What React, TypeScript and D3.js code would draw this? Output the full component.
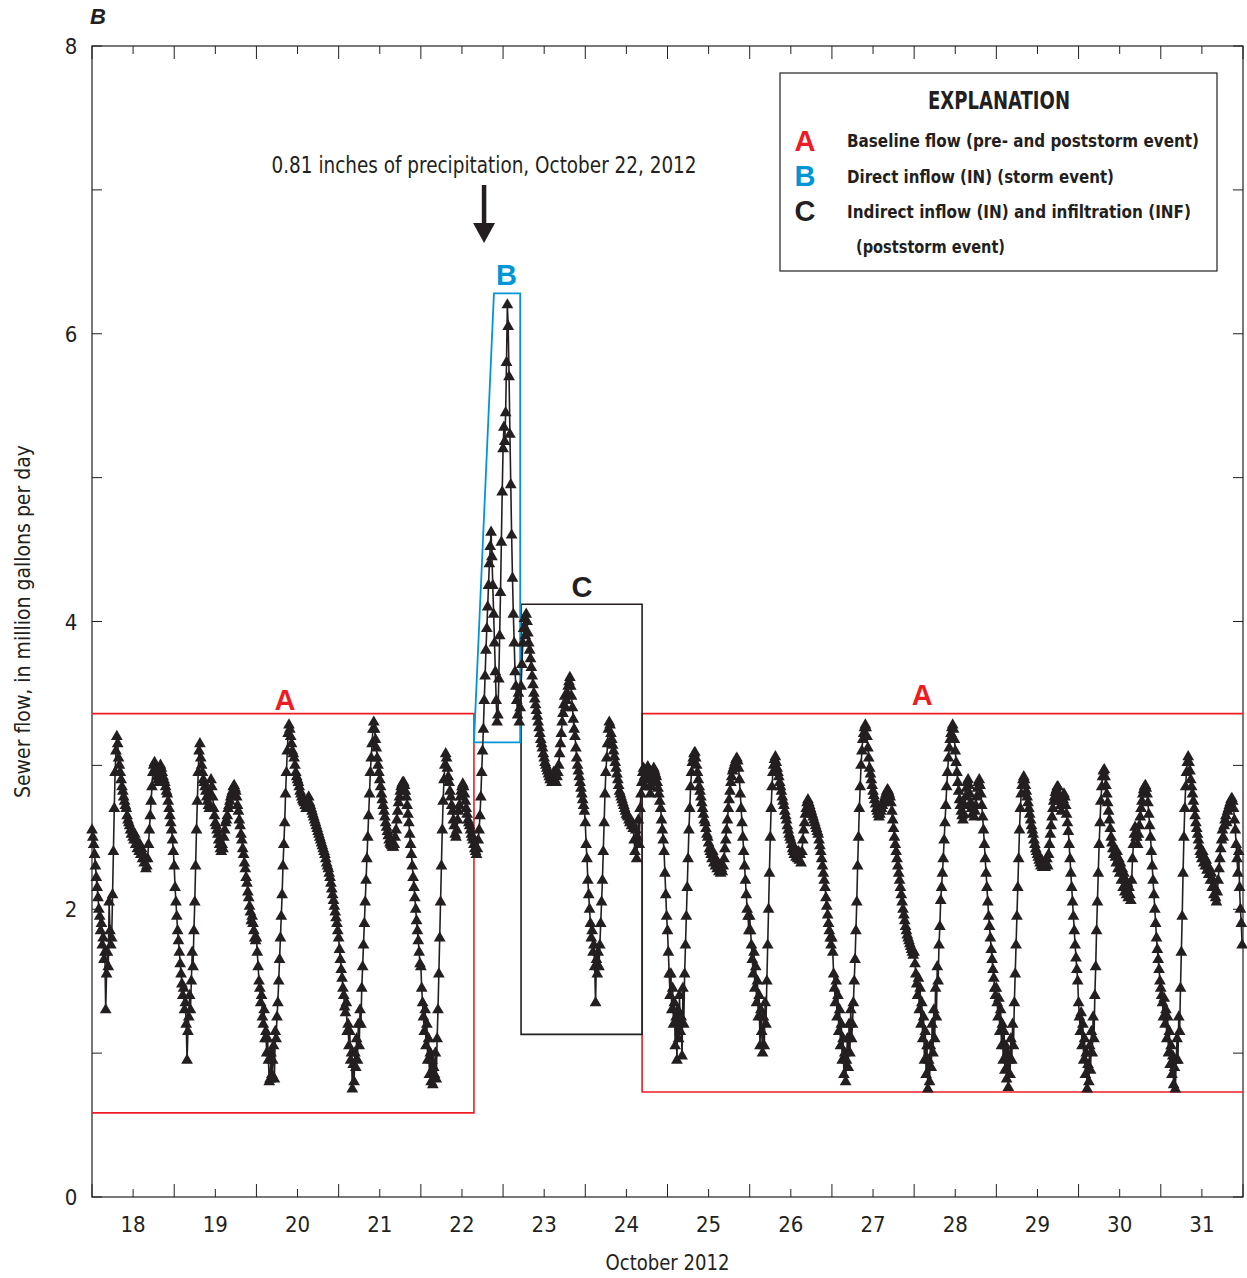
import React from "react";
import * as d3 from "d3";

const W = 1247;
const H = 1278;
const plot = { left: 92, right: 1243, top: 46, bottom: 1197 };

const ink = "#231f20";
const red = "#ed1c24";
const blue = "#0096d6";
const narrow = "'Liberation Sans Narrow', 'DejaVu Sans Condensed', 'Roboto', sans-serif";
const bold = "'Liberation Sans', Arial, sans-serif";

// sewer flow, million gallons per day, one reading every 15 minutes
const oct18 = [
  2.55, 2.50, 2.45, 2.38, 2.30, 2.22, 2.15, 2.08, 2.00, 1.95, 1.85, 1.90,
  1.75, 1.80, 1.65, 1.70, 1.30, 1.55, 1.70, 1.60, 2.05, 1.85, 1.75, 1.80,
  2.10, 2.40, 2.70, 2.95, 3.10, 3.20, 3.15, 3.05, 3.00, 2.95, 2.90, 2.85,
  2.82, 2.78, 2.75, 2.72, 2.70, 2.65, 2.62, 2.60, 2.58, 2.55, 2.52, 2.55,
  2.50, 2.48, 2.52, 2.45, 2.48, 2.42, 2.45, 2.40, 2.45, 2.38, 2.42, 2.35,
  2.38, 2.32, 2.35, 2.28, 2.30, 2.35, 2.45, 2.55, 2.65, 2.75, 2.85, 2.95,
  3.00, 3.02, 2.98, 2.95, 2.92, 2.90, 2.88, 2.95, 3.00, 2.98, 2.95, 2.92,
  2.90, 2.88, 2.85, 2.82, 2.80, 2.75, 2.70, 2.65, 2.60, 2.55, 2.48, 2.40,
];
const oct19 = [
  2.30, 2.15, 2.05, 1.95, 1.85, 1.78, 1.70, 1.62, 1.55, 1.48, 1.40, 1.45,
  1.30, 1.35, 1.20, 0.95, 1.15, 1.25, 1.40, 1.30, 1.50, 1.70, 1.60, 1.85,
  2.05, 2.30, 2.55, 2.75, 2.95, 3.10, 3.15, 3.05, 3.00, 2.95, 2.90, 2.88,
  2.85, 2.82, 2.78, 2.75, 2.72, 2.70, 2.80, 2.90, 2.85, 2.78, 2.70, 2.65,
  2.60, 2.58, 2.55, 2.52, 2.48, 2.45, 2.42, 2.40, 2.45, 2.42, 2.50, 2.55,
  2.60, 2.62, 2.65, 2.70, 2.72, 2.75, 2.78, 2.80, 2.82, 2.85, 2.86, 2.84,
  2.82, 2.78, 2.72, 2.68, 2.62, 2.58, 2.52, 2.48, 2.42, 2.38, 2.32, 2.28,
  2.22, 2.18, 2.12, 2.08, 2.02, 1.98, 1.92, 1.95, 1.90, 1.85, 1.80, 1.78,
];
const oct20 = [
  1.80, 1.70, 1.60, 1.50, 1.45, 1.35, 1.40, 1.25, 1.20, 1.30, 1.10, 1.15,
  1.00, 1.10, 0.95, 0.80, 0.82, 1.00, 0.85, 0.95, 1.05, 0.82, 1.15, 1.10,
  1.25, 1.35, 1.50, 1.65, 1.80, 1.95, 2.10, 2.30, 2.45, 2.60, 2.80, 2.95,
  3.10, 3.22, 3.28, 3.25, 3.20, 3.15, 3.10, 3.08, 3.05, 3.00, 2.95, 2.92,
  2.90, 2.88, 2.85, 2.82, 2.80, 2.78, 2.76, 2.75, 2.74, 2.72, 2.70, 2.72,
  2.75, 2.78, 2.74, 2.72, 2.70, 2.68, 2.66, 2.64, 2.62, 2.60, 2.58, 2.56,
  2.54, 2.52, 2.50, 2.48, 2.46, 2.44, 2.42, 2.40, 2.38, 2.35, 2.32, 2.30,
  2.28, 2.25, 2.22, 2.18, 2.14, 2.10, 2.06, 2.02, 1.98, 1.94, 1.90, 1.85,
];
const oct21 = [
  1.80, 1.72, 1.65, 1.58, 1.52, 1.45, 1.40, 1.32, 1.28, 1.35, 1.15, 1.20,
  1.05, 1.15, 0.95, 1.00, 0.75, 0.92, 0.80, 1.00, 0.90, 1.10, 0.95, 1.20,
  1.05, 1.30, 1.20, 1.45, 1.60, 1.75, 1.90, 2.05, 2.20, 2.35, 2.50, 2.65,
  2.80, 2.95, 3.05, 3.15, 3.25, 3.30, 3.25, 3.18, 3.12, 3.05, 3.00, 2.95,
  2.90, 2.85, 2.80, 2.76, 2.72, 2.68, 2.64, 2.60, 2.57, 2.54, 2.51, 2.48,
  2.46, 2.45, 2.44, 2.43, 2.43, 2.45, 2.50, 2.55, 2.62, 2.68, 2.74, 2.78,
  2.82, 2.85, 2.87, 2.88, 2.88, 2.86, 2.82, 2.78, 2.72, 2.66, 2.60, 2.52,
  2.45, 2.38, 2.30, 2.22, 2.15, 2.08, 2.00, 1.92, 1.85, 1.78, 1.70, 1.62,
];
const oct22 = [
  1.60, 1.45, 1.35, 1.25, 1.15, 1.30, 1.05, 1.20, 0.95, 1.10, 0.85, 1.00,
  0.80, 0.95, 0.78, 0.90, 0.85, 1.00, 0.82, 1.10, 1.30, 1.55, 1.80, 2.05,
  2.30, 2.55, 2.75, 2.90, 3.00, 3.08, 3.05, 2.98, 2.92, 2.88, 2.82, 2.78,
  2.72, 2.68, 2.62, 2.58, 2.52, 2.50, 2.55, 2.62, 2.68, 2.72, 2.78, 2.82,
  2.85, 2.87, 2.85, 2.80, 2.75, 2.70, 2.66, 2.62, 2.60, 2.58, 2.55, 2.52,
  2.50, 2.48, 2.45, 2.42, 2.40, 2.38, 2.42, 2.48, 2.55, 2.65, 2.78, 2.95,
  3.10, 3.25, 3.45, 3.62, 3.80, 3.95, 4.10, 4.25, 4.40, 4.52, 4.62, 4.45,
  4.25, 4.05, 3.85, 3.65, 3.45, 3.30, 3.35, 3.60, 3.90, 4.20, 4.55, 4.90,
];
const oct23 = [
  5.20, 5.35, 5.25, 5.45, 5.80, 6.20, 6.05, 5.70, 5.30, 4.95, 4.60, 4.30,
  4.05, 3.85, 3.65, 3.55, 3.45, 3.35, 3.50, 3.30, 3.40, 3.55, 3.70, 3.85,
  3.95, 4.02, 3.90, 4.05, 4.00, 3.92, 3.85, 3.80, 3.74, 3.68, 3.62, 3.56,
  3.50, 3.46, 3.42, 3.38, 3.34, 3.30, 3.26, 3.22, 3.18, 3.15, 3.12, 3.08,
  3.05, 3.02, 3.00, 2.98, 2.96, 2.94, 2.92, 2.90, 2.92, 2.88, 2.90, 2.95,
  2.90, 2.95, 2.88, 2.92, 2.95, 3.00, 3.08, 3.15, 3.22, 3.30, 3.36, 3.42,
  3.48, 3.40, 3.45, 3.50, 3.55, 3.58, 3.61, 3.55, 3.48, 3.40, 3.32, 3.25,
  3.20, 3.12, 3.05, 3.00, 2.96, 2.92, 2.88, 2.84, 2.80, 2.76, 2.72, 2.68,
];
const oct24 = [
  2.60, 2.45, 2.35, 2.20, 2.10, 2.00, 1.90, 1.80, 1.85, 1.70, 1.75, 1.60,
  1.35, 1.65, 1.55, 1.70, 1.60, 1.75, 1.90, 2.05, 2.20, 2.40, 2.60, 2.80,
  2.95, 3.05, 3.15, 3.25, 3.30, 3.28, 3.22, 3.18, 3.14, 3.10, 3.06, 3.02,
  2.98, 2.94, 2.90, 2.86, 2.82, 2.80, 2.78, 2.76, 2.74, 2.72, 2.70, 2.68,
  2.66, 2.65, 2.64, 2.62, 2.60, 2.62, 2.58, 2.60, 2.56, 2.48, 2.40, 2.55,
  2.35, 2.50, 2.62, 2.45, 2.70, 2.80, 2.88, 2.95, 2.98, 2.92, 2.85, 2.90,
  2.95, 2.99, 2.92, 2.85, 2.80, 2.85, 2.90, 2.95, 2.98, 2.96, 2.94, 2.92,
  2.88, 2.84, 2.80, 2.75, 2.70, 2.62, 2.55, 2.48, 2.40, 2.25, 2.10, 1.95,
];
const oct25 = [
  1.85, 1.70, 1.55, 1.40, 1.55, 1.30, 1.45, 1.20, 1.35, 1.05, 1.25, 0.95,
  1.30, 1.10, 1.40, 1.15, 1.25, 0.98, 1.45, 1.20, 1.55, 1.75, 1.95, 2.15,
  2.35, 2.55, 2.70, 2.85, 2.95, 3.02, 3.05, 3.08, 3.09, 3.05, 3.00, 2.95,
  2.90, 2.85, 2.82, 2.78, 2.74, 2.70, 2.66, 2.62, 2.60, 2.56, 2.52, 2.50,
  2.46, 2.42, 2.40, 2.38, 2.35, 2.40, 2.32, 2.36, 2.30, 2.34, 2.28, 2.32,
  2.26, 2.30, 2.25, 2.28, 2.26, 2.30, 2.35, 2.42, 2.48, 2.55, 2.62, 2.70,
  2.76, 2.82, 2.88, 2.92, 2.96, 2.98, 3.00, 3.02, 3.04, 3.05, 3.03, 2.98,
  2.90, 2.80, 2.70, 2.60, 2.50, 2.40, 2.30, 2.20, 2.10, 2.00, 1.95, 1.85,
];
const oct26 = [
  1.95, 1.85, 1.75, 1.65, 1.55, 1.70, 1.45, 1.60, 1.35, 1.50, 1.25, 1.40,
  1.05, 1.30, 1.15, 1.00, 1.25, 1.05, 1.35, 1.20, 1.50, 1.75, 2.00, 2.25,
  2.50, 2.70, 2.85, 2.95, 3.00, 3.04, 3.06, 3.02, 2.98, 2.95, 2.92, 2.88,
  2.85, 2.82, 2.78, 2.75, 2.72, 2.68, 2.65, 2.62, 2.58, 2.55, 2.52, 2.50,
  2.48, 2.45, 2.42, 2.40, 2.38, 2.42, 2.36, 2.40, 2.35, 2.40, 2.34, 2.38,
  2.32, 2.40, 2.48, 2.55, 2.60, 2.66, 2.70, 2.74, 2.76, 2.74, 2.72, 2.70,
  2.68, 2.66, 2.64, 2.62, 2.60, 2.58, 2.56, 2.54, 2.52, 2.48, 2.44, 2.40,
  2.35, 2.30, 2.25, 2.20, 2.15, 2.08, 2.02, 1.96, 1.90, 1.85, 1.80, 1.75,
];
const oct27 = [
  1.80, 1.70, 1.55, 1.45, 1.35, 1.50, 1.25, 1.40, 1.15, 1.30, 1.05, 1.20,
  0.95, 1.10, 0.85, 1.00, 0.80, 0.95, 1.10, 0.90, 1.20, 1.00, 1.30, 1.10,
  1.20, 1.35, 1.50, 1.65, 1.85, 2.05, 2.30, 2.50, 2.70, 2.85, 3.00, 3.10,
  3.18, 3.22, 3.26, 3.28, 3.26, 3.20, 3.12, 3.05, 2.98, 2.94, 2.90, 2.86,
  2.82, 2.79, 2.76, 2.73, 2.70, 2.68, 2.66, 2.64, 2.66, 2.68, 2.70, 2.72,
  2.74, 2.76, 2.78, 2.80, 2.82, 2.83, 2.82, 2.80, 2.78, 2.74, 2.68, 2.62,
  2.56, 2.50, 2.45, 2.40, 2.35, 2.30, 2.25, 2.20, 2.15, 2.10, 2.05, 2.00,
  1.96, 1.92, 1.88, 1.85, 1.82, 1.80, 1.78, 1.76, 1.74, 1.72, 1.70, 1.68,
];
const oct28 = [
  1.70, 1.62, 1.55, 1.48, 1.40, 1.52, 1.30, 1.45, 1.20, 1.35, 1.10, 1.25,
  0.95, 1.15, 0.85, 1.05, 0.75, 0.95, 0.80, 1.05, 0.90, 1.20, 1.00, 1.30,
  1.10, 1.45, 1.25, 1.60, 1.50, 1.75, 1.88, 2.06, 2.15, 2.25, 2.35, 2.48,
  2.60, 2.72, 2.85, 2.95, 3.05, 3.12, 3.18, 3.22, 3.26, 3.28, 3.25, 3.18,
  3.10, 3.02, 2.95, 2.88, 2.82, 2.76, 2.72, 2.68, 2.65, 2.62, 2.66, 2.72,
  2.78, 2.84, 2.88, 2.90, 2.86, 2.80, 2.74, 2.70, 2.66, 2.70, 2.64, 2.68,
  2.72, 2.78, 2.84, 2.88, 2.90, 2.86, 2.80, 2.72, 2.64, 2.55, 2.45, 2.35,
  2.25, 2.15, 2.05, 1.95, 1.88, 1.80, 1.72, 1.65, 1.58, 1.52, 1.45, 1.40,
];
const oct29 = [
  1.45, 1.35, 1.25, 1.38, 1.15, 1.30, 1.05, 1.20, 0.95, 1.15, 0.88, 1.05,
  0.82, 1.00, 0.76, 0.95, 0.85, 1.10, 0.95, 1.20, 1.05, 1.35, 1.55, 1.75,
  1.95, 2.15, 2.35, 2.55, 2.70, 2.80, 2.86, 2.90, 2.92, 2.90, 2.86, 2.82,
  2.78, 2.74, 2.70, 2.66, 2.62, 2.58, 2.55, 2.52, 2.48, 2.45, 2.42, 2.40,
  2.38, 2.36, 2.34, 2.32, 2.30, 2.34, 2.29, 2.32, 2.30, 2.29, 2.32, 2.35,
  2.30, 2.38, 2.45, 2.52, 2.58, 2.64, 2.70, 2.75, 2.78, 2.81, 2.83, 2.85,
  2.85, 2.80, 2.75, 2.72, 2.68, 2.72, 2.76, 2.80, 2.78, 2.72, 2.66, 2.60,
  2.54, 2.45, 2.35, 2.25, 2.15, 2.05, 1.95, 1.85, 1.75, 1.66, 1.58, 1.50,
];
const oct30 = [
  1.35, 1.25, 1.15, 1.28, 1.05, 1.20, 0.95, 1.10, 0.85, 1.00, 0.75, 0.92,
  0.80, 1.05, 0.88, 1.15, 1.00, 1.25, 1.10, 1.40, 1.60, 1.85, 2.05, 2.25,
  2.45, 2.60, 2.75, 2.85, 2.92, 2.96, 2.97, 2.92, 2.86, 2.80, 2.74, 2.68,
  2.62, 2.56, 2.50, 2.46, 2.42, 2.38, 2.42, 2.36, 2.32, 2.40, 2.28, 2.35,
  2.25, 2.32, 2.20, 2.28, 2.15, 2.25, 2.12, 2.20, 2.10, 2.18, 2.08, 2.15,
  2.10, 2.06, 2.20, 2.35, 2.45, 2.52, 2.57, 2.50, 2.50, 2.45, 2.52, 2.58,
  2.64, 2.70, 2.75, 2.80, 2.83, 2.85, 2.86, 2.84, 2.80, 2.74, 2.66, 2.58,
  2.50, 2.40, 2.30, 2.20, 2.10, 2.00, 1.90, 1.80, 1.72, 1.65, 1.58, 1.50,
];
const oct31 = [
  1.45, 1.40, 1.35, 1.25, 1.38, 1.20, 1.30, 1.10, 1.25, 1.00, 1.15, 0.92,
  1.05, 0.85, 0.98, 0.78, 0.90, 0.75, 0.95, 1.10, 0.95, 1.25, 1.15, 1.45,
  1.70, 1.95, 2.25, 2.50, 2.70, 2.85, 2.95, 3.02, 3.06, 3.02, 2.96, 2.90,
  2.85, 2.80, 2.75, 2.70, 2.65, 2.60, 2.56, 2.52, 2.48, 2.44, 2.40, 2.38,
  2.35, 2.40, 2.32, 2.36, 2.30, 2.34, 2.27, 2.30, 2.24, 2.28, 2.20, 2.25,
  2.15, 2.20, 2.10, 2.15, 2.08, 2.05, 2.12, 2.20, 2.28, 2.35, 2.42, 2.48,
  2.55, 2.50, 2.58, 2.62, 2.65, 2.60, 2.68, 2.70, 2.72, 2.74, 2.76, 2.77,
  2.75, 2.70, 2.62, 2.55, 2.45, 2.35, 2.25, 2.40, 2.15, 2.00, 1.90, 1.75,
];

const dailyFlow = [oct18, oct19, oct20, oct21, oct22, oct23, oct24, oct25, oct26, oct27, oct28, oct29, oct30, oct31];
const dayLabels = ["18", "19", "20", "21", "22", "23", "24", "25", "26", "27", "28", "29", "30", "31"];
const yTicks = [0, 1, 2, 3, 4, 5, 6, 7, 8];
const yLabels = [0, 2, 4, 6, 8];

const t0 = Date.UTC(2012, 9, 18);
const t1 = Date.UTC(2012, 10, 1);
const STEP = 15 * 60 * 1000;
const at = (day: number, hour: number, min = 0) => new Date(Date.UTC(2012, 9, day, hour, min));

// A, B and C outlines in data units (time, flow)
const baseTop = 3.36;
const baseBottomPre = 0.585;
const baseBottomPost = 0.73;
const stormStart = at(22, 15, 30);
const stormTopStart = at(22, 21, 20);
const stormEnd = at(23, 5, 0);
const stormLow = 3.16;
const stormHigh = 6.28;
const postStart = at(23, 5, 15);
const postEnd = at(24, 16, 35);
const postLow = 1.13;
const postHigh = 4.12;
const rainTime = at(22, 18, 27);

const series = dailyFlow.flat().map((v, i) => ({ t: new Date(t0 + i * STEP), v }));

export default function App() {
  const x = d3.scaleUtc().domain([new Date(t0), new Date(t1)]).range([plot.left, plot.right]);
  const y = d3.scaleLinear().domain([0, 8]).range([plot.bottom, plot.top]);

  const line = d3.line<{ t: Date; v: number }>().x((d) => x(d.t)).y((d) => y(d.v));
  const tri = d3.symbol().type(d3.symbolTriangle).size(60)() as string;

  const days = d3.utcDay.range(new Date(t0), new Date(t1 + 1));
  const noons = days.slice(0, 14).map((d) => d3.utcHour.offset(d, 12));

  const pts = (arr: [Date, number][]) => arr.map(([t, v]) => `${x(t)},${y(v)}`).join(" ");
  const start = new Date(t0);
  const end = new Date(t1);
  const rx = x(rainTime);

  return (
    <svg width={W} height={H} style={{ position: "absolute", left: 0, top: 0, background: "#fff" }}>
      {/* frame */}
      <rect x={plot.left} y={plot.top} width={plot.right - plot.left} height={plot.bottom - plot.top} fill="none" stroke={ink} strokeWidth={1.2} />

      {/* x ticks: midnights long, noons short, both top and bottom */}
      {days.map((d, i) => (
        <g key={"d" + i}>
          <line x1={x(d)} x2={x(d)} y1={plot.bottom} y2={plot.bottom - 13} stroke={ink} strokeWidth={1} />
          <line x1={x(d)} x2={x(d)} y1={plot.top} y2={plot.top + 13} stroke={ink} strokeWidth={1} />
        </g>
      ))}
      {noons.map((d, i) => (
        <g key={"n" + i}>
          <line x1={x(d)} x2={x(d)} y1={plot.bottom} y2={plot.bottom - 8} stroke={ink} strokeWidth={1} />
          <line x1={x(d)} x2={x(d)} y1={plot.top} y2={plot.top + 8} stroke={ink} strokeWidth={1} />
          <text x={x(d)} y={plot.bottom + 35} textAnchor="middle" fontFamily={narrow} fontSize={22} fill={ink}>
            {dayLabels[i]}
          </text>
        </g>
      ))}
      <text x={x(at(25, 0))} y={1270} textAnchor="middle" fontFamily={narrow} fontSize={22} fill={ink} textLength={124} lengthAdjust="spacingAndGlyphs">
        October 2012
      </text>

      {/* y ticks */}
      {yTicks.map((v) => (
        <g key={"y" + v}>
          <line x1={plot.left} x2={plot.left + 10} y1={y(v)} y2={y(v)} stroke={ink} strokeWidth={1} />
          <line x1={plot.right} x2={plot.right - 10} y1={y(v)} y2={y(v)} stroke={ink} strokeWidth={1} />
        </g>
      ))}
      {yLabels.map((v) => (
        <text key={"yl" + v} x={71} y={y(v) + 8} textAnchor="middle" fontFamily={narrow} fontSize={22} fill={ink}>
          {v}
        </text>
      ))}
      <text
        transform={`translate(30,${(plot.top + plot.bottom) / 2}) rotate(-90)`}
        textAnchor="middle"
        fontFamily={narrow}
        fontSize={22}
        fill={ink}
        textLength={353}
        lengthAdjust="spacingAndGlyphs"
      >
        Sewer flow, in million gallons per day
      </text>
      <text x={98} y={24} textAnchor="middle" fontFamily={bold} fontWeight="bold" fontStyle="italic" fontSize={22} fill={ink}>
        B
      </text>

      {/* event outlines */}
      <polyline points={pts([[start, baseTop], [stormStart, baseTop], [stormStart, baseBottomPre], [start, baseBottomPre]])} fill="none" stroke={red} strokeWidth={1.6} />
      <polyline points={pts([[end, baseTop], [postEnd, baseTop], [postEnd, baseBottomPost], [end, baseBottomPost]])} fill="none" stroke={red} strokeWidth={1.6} />
      <polygon points={pts([[postStart, postHigh], [postEnd, postHigh], [postEnd, postLow], [postStart, postLow]])} fill="none" stroke={ink} strokeWidth={1.6} />
      <polygon points={pts([[stormStart, stormLow], [stormTopStart, stormHigh], [stormEnd, stormHigh], [stormEnd, stormLow]])} fill="none" stroke={blue} strokeWidth={1.8} />

      {/* flow series */}
      <path d={line(series) as string} fill="none" stroke={ink} strokeWidth={1.6} />
      {series.map((d, i) => (
        <path key={i} d={tri} transform={`translate(${x(d.t)},${y(d.v)})`} fill={ink} />
      ))}

      {/* event labels */}
      <text x={x(at(20, 8, 20))} y={y(baseTop) - 4} textAnchor="middle" fontFamily={bold} fontWeight="bold" fontSize={29} fill={red}>A</text>
      <text x={x(at(28, 2, 20))} y={y(baseTop) - 9} textAnchor="middle" fontFamily={bold} fontWeight="bold" fontSize={29} fill={red}>A</text>
      <text x={x(at(23, 1, 0))} y={y(stormHigh) - 8} textAnchor="middle" fontFamily={bold} fontWeight="bold" fontSize={29} fill={blue}>B</text>
      <text x={x(at(23, 23, 0))} y={y(postHigh) - 7} textAnchor="middle" fontFamily={bold} fontWeight="bold" fontSize={29} fill={ink}>C</text>

      {/* precipitation note */}
      <text x={rx} y={173} textAnchor="middle" fontFamily={narrow} fontSize={23} fill={ink} textLength={425} lengthAdjust="spacingAndGlyphs">
        0.81 inches of precipitation, October 22, 2012
      </text>
      <line x1={rx} x2={rx} y1={185} y2={225} stroke={ink} strokeWidth={4.5} />
      <path d={`M${rx - 11},223 L${rx + 11},223 L${rx},243 Z`} fill={ink} />

      {/* explanation */}
      <g>
        <rect x={780} y={73} width={437} height={198} fill="#fff" stroke={ink} strokeWidth={1.2} />
        <text x={999} y={109} textAnchor="middle" fontFamily={narrow} fontWeight="bold" fontSize={24} fill={ink} textLength={142} lengthAdjust="spacingAndGlyphs">EXPLANATION</text>
        <text x={805} y={151} textAnchor="middle" fontFamily={bold} fontWeight="bold" fontSize={29} fill={red}>A</text>
        <text x={805} y={186} textAnchor="middle" fontFamily={bold} fontWeight="bold" fontSize={29} fill={blue}>B</text>
        <text x={805} y={221} textAnchor="middle" fontFamily={bold} fontWeight="bold" fontSize={29} fill={ink}>C</text>
        <text x={847} y={147} fontFamily={narrow} fontWeight="bold" fontSize={18} fill={ink} textLength={352} lengthAdjust="spacingAndGlyphs">Baseline flow (pre- and poststorm event)</text>
        <text x={847} y={183} fontFamily={narrow} fontWeight="bold" fontSize={18} fill={ink} textLength={267} lengthAdjust="spacingAndGlyphs">Direct inflow (IN) (storm event)</text>
        <text x={847} y={218} fontFamily={narrow} fontWeight="bold" fontSize={18} fill={ink} textLength={344} lengthAdjust="spacingAndGlyphs">Indirect inflow (IN) and infiltration (INF)</text>
        <text x={856} y={253} fontFamily={narrow} fontWeight="bold" fontSize={18} fill={ink} textLength={149} lengthAdjust="spacingAndGlyphs">(poststorm event)</text>
      </g>
    </svg>
  );
}
